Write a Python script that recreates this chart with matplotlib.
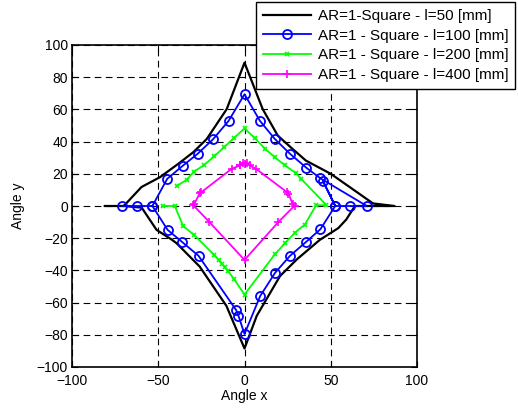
import numpy as np
import matplotlib
matplotlib.use('Agg')
import matplotlib.pyplot as plt

plt.rcParams['font.family'] = ['Liberation Sans', 'DejaVu Sans']
plt.rcParams['font.size'] = 10

# l = 50 mm (black, no markers)
x50 = [-81, -70, -59.7, -49, -38.4, -29.7, -21.9, -10.3, 0, 10.5, 19.3, 27.9, 35.6, 50, 74.5, 87,
       64, 59, 54.3, 43.7, 30.3, 20.6, 7.1, 0, -10.5, -26, -39.4, -42.3, -51, -59.6, -70]
y50 = [0, 0, 11.8, 17.9, 26.2, 33.4, 41.6, 60.2, 89, 60.3, 43.7, 35.4, 28.2, 20, 1.6, 0,
       0, -8.4, -13.8, -21, -33.2, -43.5, -68.2, -88.5, -62, -37.6, -23.1, -20.8, -14.8, -1, 0]

# l = 100 mm (blue, circles)
x100 = [-71, -62.3, -53.4, -44.8, -35.9, -27.1, -18.2, -9.2, 0, 9, 17.6, 26.4, 35.8, 44, 70.9, 61.3,
        52.6, 45.4, 52.6, 44, 35.6, 26.4, 17.8, 9.1, 0, -3.5, -4.8, -26.6, -36.1, -44.6, -53.4]
y100 = [0, 0, 0, 16.9, 24.9, 32.5, 41.5, 52.9, 69.4, 52.8, 41.6, 32.4, 23.8, 17.2, 0, 0,
        0, 15.7, 0, -14.4, -22.4, -30.9, -41.4, -55.9, -79.5, -68.2, -64.7, -31, -22.4, -14.8, 0]

# l = 200 mm (green, x)
x200 = [-39.3, -33.5, -29.3, -23.4, -17.6, -11.8, -6, 0, 5.8, 12, 17.5, 23.3, 30, 33, 47.5, 41.5,
        35, 29.2, 23.6, 17.6, 0, -6, -9.5, -11.5, -13, -15, -17.5, -29.2, -35.6, -40.4, -47]
y200 = [12.4, 16.3, 21.4, 25.4, 30.9, 36.5, 42.3, 48.2, 42.3, 35.5, 30.3, 25.4, 20.2, 16.7, 0.5, 0.5,
        -11.5, -16.6, -23, -30, -55, -45.5, -40.5, -38, -36, -33.5, -30.5, -18, -12.4, 0, 0]

# l = 400 mm (magenta, +)
x400 = [-2.5, -1, 0.4, 1.5, 3, 6.5, 24.5, 25.5, 28, 29, 19.6, 0, -20.5, -29.7, -29, -26, -25, -7.3, -2.5]
y400 = [25.2, 26.5, 26, 26.5, 25.2, 23.2, 8.7, 7.7, 1, 0.2, -10, -33.5, -9.8, 0.5, 1.5, 7.8, 8.6, 23.2, 25.2]

labels = ['AR=1-Square - l=50 [mm]', 'AR=1 - Square - l=100 [mm]',
          'AR=1 - Square - l=200 [mm]', 'AR=1 - Square - l=400 [mm]']

fig = plt.figure(figsize=(5.18, 4.09), dpi=100)
ax = fig.add_axes([72/518, 1-367/409, (417-72)/518, (367-45)/409])

ax.plot(x50, y50, '-', color='k', lw=1.6, label=labels[0])
ax.plot(x100, y100, '-o', color='b', lw=1.3, ms=6.5, mfc='none', mew=1.3, label=labels[1])
ax.plot(x200, y200, '-x', color=(0, 1, 0), lw=1.3, ms=3.5, mew=1.2, label=labels[2])
ax.plot(x400, y400, '-+', color=(1, 0, 1), lw=1.3, ms=6, mew=1.2, label=labels[3])

ax.set_xlim(-100, 100)
ax.set_ylim(-100, 100)
ax.set_xticks(np.arange(-100, 101, 50))
ax.set_yticks(np.arange(-100, 101, 20))
ax.grid(True, color='k', linestyle=(0, (6, 4)), linewidth=0.8)
ax.tick_params(direction='in', top=True, right=True, length=4, labelsize=10, pad=3)
ax.tick_params(axis='x', pad=5)
for s in ax.spines.values():
    s.set_linewidth(1.2)
ax.set_xlabel('Angle x', labelpad=1)
ax.set_ylabel('Angle y', labelpad=8)

leg = ax.legend(loc='upper right', bbox_to_anchor=(515/518, 1-2/409), bbox_transform=fig.transFigure,
                borderaxespad=0, fancybox=False, framealpha=1, edgecolor='k',
                handlelength=3.2, handletextpad=0.4, labelspacing=0.38, borderpad=0.45, fontsize=11)
leg.get_frame().set_linewidth(1.0)

fig.savefig('out.png', dpi=100)
